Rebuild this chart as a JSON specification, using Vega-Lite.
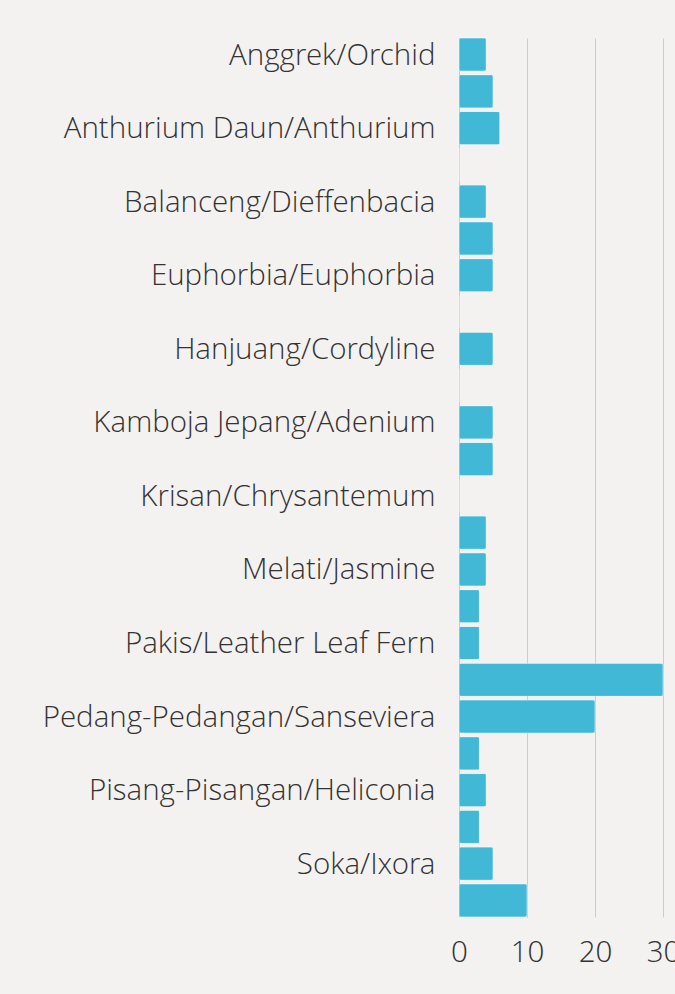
{
  "$schema": "https://vega.github.io/schema/vega-lite/v6.json",
  "width": 204,
  "height": 879,
  "autosize": {"type": "none"},
  "padding": {"left": 459, "top": 38, "right": 12, "bottom": 77},
  "background": "#f3f2f0",
  "config": {
    "view": {"stroke": null},
    "font": "Open Sans"
  },
  "data": {
    "values": [
      {"tanaman": "Anggrek/Orchid", "jumlah": 4},
      {"tanaman": "Anthurium Bunga/Anthurium Flower", "jumlah": 5},
      {"tanaman": "Anthurium Daun/Anthurium", "jumlah": 6},
      {"tanaman": "Anyelir/Carnation", "jumlah": 0},
      {"tanaman": "Balanceng/Dieffenbacia", "jumlah": 4},
      {"tanaman": "Dracaena/Dracaena", "jumlah": 5},
      {"tanaman": "Euphorbia/Euphorbia", "jumlah": 5},
      {"tanaman": "Gerbera/Herbras", "jumlah": 0},
      {"tanaman": "Hanjuang/Cordyline", "jumlah": 5},
      {"tanaman": "Kaktus/Cactus", "jumlah": 0},
      {"tanaman": "Kamboja Jepang/Adenium", "jumlah": 5},
      {"tanaman": "Kastuba/Poinsettia", "jumlah": 5},
      {"tanaman": "Krisan/Chrysantemum", "jumlah": 0},
      {"tanaman": "Mawar/Rose", "jumlah": 4},
      {"tanaman": "Melati/Jasmine", "jumlah": 4},
      {"tanaman": "Monstera/Monstera", "jumlah": 3},
      {"tanaman": "Pakis/Leather Leaf Fern", "jumlah": 3},
      {"tanaman": "Palem/Palm", "jumlah": 30},
      {"tanaman": "Pedang-Pedangan/Sanseviera", "jumlah": 20},
      {"tanaman": "Philodendron/Philodendron", "jumlah": 3},
      {"tanaman": "Pisang-Pisangan/Heliconia", "jumlah": 4},
      {"tanaman": "Sedap Malam/Tuberose", "jumlah": 3},
      {"tanaman": "Soka/Ixora", "jumlah": 5},
      {"tanaman": "Sri Rejeki/Aglaonema", "jumlah": 10}
    ]
  },
  "mark": {
    "type": "bar",
    "color": "#42b8d7",
    "cornerRadius": 2,
    "stroke": "#ffffff",
    "strokeOpacity": 0.3,
    "strokeWidth": 1
  },
  "encoding": {
    "y": {
      "field": "tanaman",
      "type": "nominal",
      "sort": null,
      "title": null,
      "scale": {"paddingInner": 0.1, "paddingOuter": 0},
      "axis": {
        "domain": false,
        "ticks": false,
        "grid": false,
        "labelFont": "Open Sans Light, Open Sans",
        "labelFontWeight": 300,
        "labelFontSize": 29.5,
        "labelColor": "#333333",
        "labelPadding": 24,
        "labelOffset": 1,
        "labelLimit": 0,
        "labelOverlap": "parity",
        "labelSeparation": 20
      }
    },
    "x": {
      "field": "jumlah",
      "type": "quantitative",
      "title": null,
      "scale": {"domain": [0, 30], "nice": false},
      "axis": {
        "values": [0, 10, 20, 30],
        "domain": false,
        "ticks": false,
        "grid": true,
        "gridColor": "#cccccc",
        "gridWidth": 1,
        "labelFont": "Open Sans Light, Open Sans",
        "labelFontWeight": 300,
        "labelFontSize": 29.5,
        "labelColor": "#333333",
        "labelPadding": 21,
        "labelFlush": false
      }
    }
  }
}
